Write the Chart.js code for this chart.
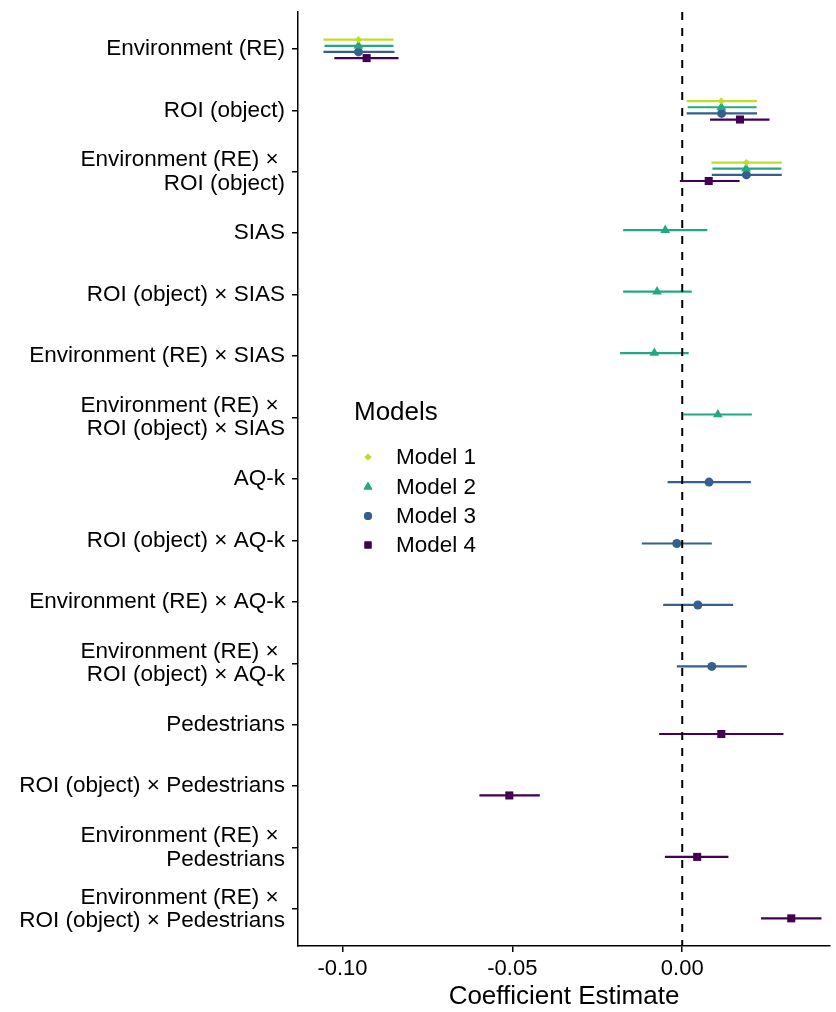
<!DOCTYPE html>
<html>
<head>
<meta charset="utf-8">
<script src="https://cdn.jsdelivr.net/npm/chart.js@4/dist/chart.umd.min.js"></script>
<style>
  body { margin: 0; background: #fff; }
  #wrap { width: 836px; height: 1012px; }
</style>
</head>
<body>
<div id="wrap"><canvas id="coefCanvas" width="836" height="1012"></canvas></div>
<script>
// row labels, top to bottom (multi-line labels as arrays)
var rowLabels = [
    "Environment (RE)",
    "ROI (object)",
    ["Environment (RE) × ", "ROI (object)"],
    "SIAS",
    "ROI (object) × SIAS",
    "Environment (RE) × SIAS",
    ["Environment (RE) × ", "ROI (object) × SIAS"],
    "AQ-k",
    "ROI (object) × AQ-k",
    "Environment (RE) × AQ-k",
    ["Environment (RE) × ", "ROI (object) × AQ-k"],
    "Pedestrians",
    "ROI (object) × Pedestrians",
    ["Environment (RE) × ", "Pedestrians"],
    ["Environment (RE) × ", "ROI (object) × Pedestrians"]
];

var modelNames = ["Model 1", "Model 2", "Model 3", "Model 4"];
var xTicks = [-0.10, -0.05, 0.00];

// estimates and interval bounds per model (null = term not in model)
var est1 = [-0.0953, 0.0115, 0.0189, null, null, null, null, null, null, null, null, null, null, null, null];
var lo1  = [-0.1056, 0.0013, 0.0086, null, null, null, null, null, null, null, null, null, null, null, null];
var hi1  = [-0.0850, 0.0220, 0.0293, null, null, null, null, null, null, null, null, null, null, null, null];

var est2 = [-0.0953, 0.0115, 0.0188, -0.0050, -0.0074, -0.0082, 0.0105, null, null, null, null, null, null, null, null];
var lo2  = [-0.1053, 0.0016, 0.0089, -0.0174, -0.0174, -0.0183, 0.0003, null, null, null, null, null, null, null, null];
var hi2  = [-0.0850, 0.0219, 0.0292, 0.0074, 0.0028, 0.0019, 0.0205, null, null, null, null, null, null, null, null];

var est3 = [-0.0953, 0.0116, 0.0189, null, null, null, null, 0.0079, -0.0016, 0.0046, 0.0087, null, null, null, null];
var lo3  = [-0.1056, 0.0013, 0.0087, null, null, null, null, -0.0043, -0.0119, -0.0056, -0.0016, null, null, null, null];
var hi3  = [-0.0847, 0.0220, 0.0293, null, null, null, null, 0.0202, 0.0087, 0.0150, 0.0190, null, null, null, null];

var est4 = [-0.0929, 0.0170, 0.0078, null, null, null, null, null, null, null, null, 0.0115, -0.0509, 0.0044, 0.0321];
var lo4  = [-0.1024, 0.0082, -0.0007, null, null, null, null, null, null, null, null, -0.0068, -0.0597, -0.0051, 0.0232];
var hi4  = [-0.0835, 0.0257, 0.0169, null, null, null, null, null, null, null, null, 0.0298, -0.0419, 0.0136, 0.0410];

var colors = ['#BBDF27', '#22A884', '#35608D', '#440154'];
var shapes = ['rectRot', 'triangle', 'circle', 'rect'];
var radii = [3.6, 5.6, 4.5, 5.7];
var dodge = [-0.15, -0.05, 0.05, 0.15];

var FONT = "'Liberation Sans', Arial, Helvetica, sans-serif";

var models = [
    { est: est1, lo: lo1, hi: hi1 },
    { est: est2, lo: lo2, hi: hi2 },
    { est: est3, lo: lo3, hi: hi3 },
    { est: est4, lo: lo4, hi: hi4 }
];

var pointSets = [];
var lineSets = [];
models.forEach(function (m, k) {
    var pts = [];
    var segs = [];
    for (let i = 0; i < m.est.length; i++) {
        if (m.est[i] === null) continue;
        let y = i + 1 + dodge[k];
        pts.push({ x: m.est[i], y: y });
        segs.push({ x: m.lo[i], y: y }, { x: m.hi[i], y: y }, { x: null, y: null });
    }
    pointSets.push({
        label: modelNames[k],
        data: pts,
        pointStyle: shapes[k],
        pointRadius: radii[k],
        pointBorderWidth: 0,
        backgroundColor: colors[k],
        borderColor: colors[k],
        showLine: false
    });
    lineSets.push({
        label: modelNames[k] + " CI",
        data: segs,
        showLine: true,
        spanGaps: false,
        pointRadius: 0,
        borderWidth: 2.2,
        borderColor: colors[k],
        backgroundColor: colors[k]
    });
});

var zeroLine = {
    id: 'zeroLine',
    afterDatasetsDraw: function (chart) {
        var ctx = chart.ctx;
        var x = chart.scales.x.getPixelForValue(0);
        ctx.save();
        ctx.strokeStyle = '#000';
        ctx.lineWidth = 2;
        ctx.setLineDash([8, 8]);
        ctx.beginPath();
        ctx.moveTo(x, chart.chartArea.top);
        ctx.lineTo(x, chart.chartArea.bottom);
        ctx.stroke();
        ctx.restore();
    }
};

var modelLegend = {
    id: 'modelLegend',
    afterDraw: function (chart) {
        var ctx = chart.ctx;
        ctx.save();
        ctx.fillStyle = '#000';
        ctx.textBaseline = 'middle';
        ctx.textAlign = 'left';
        ctx.font = '26px ' + FONT;
        ctx.fillText('Models', 354, 413);
        ctx.font = '22.5px ' + FONT;
        var ys = [457, 487, 516, 545];
        var lr = [3.4, 5.2, 4, 5];
        for (let k = 0; k < 4; k++) {
            ctx.fillStyle = colors[k];
            Chart.helpers.drawPoint(ctx, { pointStyle: shapes[k], rotation: 0, radius: lr[k], borderWidth: 0 }, 368, ys[k]);
            ctx.fill();
            ctx.fillStyle = '#000';
            ctx.fillText(modelNames[k], 396, ys[k] + 1);
        }
        ctx.restore();
    }
};

function noPad(scale) {
    scale.paddingTop = 0;
    scale.paddingBottom = 0;
    scale.paddingLeft = 0;
    scale.paddingRight = 0;
}

var ctx = document.getElementById("coefCanvas").getContext("2d");

const coefChart = new Chart(ctx, {
    type: 'scatter',
    data: { datasets: pointSets.concat(lineSets) },
    plugins: [zeroLine, modelLegend],
    options: {
        responsive: false,
        animation: false,
        layout: { autoPadding: false, padding: { top: 12, right: 6, left: 0, bottom: 0 } },
        plugins: {
            legend: { display: false },
            tooltip: { enabled: false }
        },
        scales: {
            x: {
                type: 'linear',
                min: -0.1131,
                max: 0.0435,
                afterBuildTicks: function (scale) {
                    scale.ticks = xTicks.map(function (v) { return { value: v }; });
                },
                afterFit: function (scale) { scale.height = 66; noPad(scale); },
                ticks: {
                    color: '#000',
                    font: { family: FONT, size: 22 },
                    padding: 4,
                    maxRotation: 0,
                    callback: function (v) { return v.toFixed(2); }
                },
                grid: { display: true, drawOnChartArea: false, drawTicks: true, tickLength: 6, color: '#000', lineWidth: 1.5 },
                border: { display: true, color: '#000', width: 1.5 },
                title: {
                    display: true,
                    text: 'Coefficient Estimate',
                    color: '#000',
                    font: { family: FONT, size: 26, lineHeight: 1 },
                    padding: { top: 0, bottom: 2 }
                }
            },
            y: {
                type: 'linear',
                reverse: true,
                min: 0.4,
                max: 15.6,
                afterBuildTicks: function (scale) {
                    scale.ticks = rowLabels.map(function (l, i) { return { value: i + 1 }; });
                },
                afterFit: function (scale) { scale.width = 298; noPad(scale); },
                ticks: {
                    color: '#000',
                    autoSkip: false,
                    padding: 7,
                    font: { family: FONT, size: 22.5, lineHeight: 1.04 },
                    callback: function (v) { return rowLabels[Math.round(v) - 1]; }
                },
                grid: { display: true, drawOnChartArea: false, drawTicks: true, tickLength: 6, color: '#000', lineWidth: 1.5 },
                border: { display: true, color: '#000', width: 1.5 }
            }
        }
    }
});
</script>
</body>
</html>
